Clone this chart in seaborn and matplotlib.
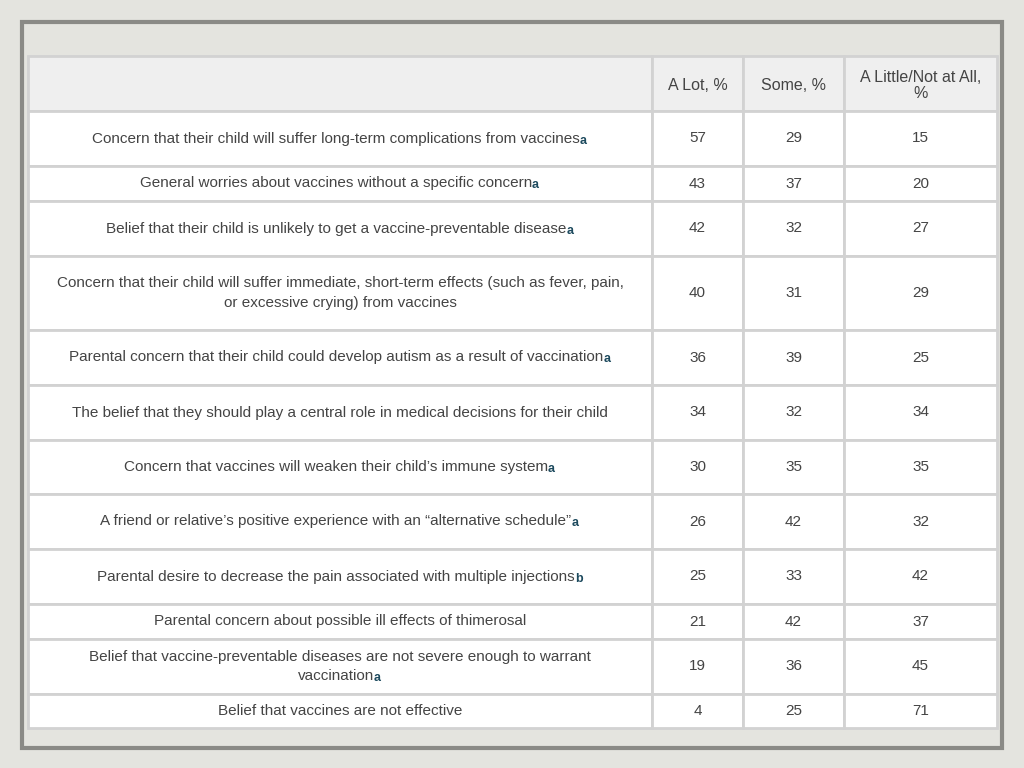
import matplotlib
matplotlib.use('Agg')
import matplotlib.pyplot as plt
import seaborn as sns
from matplotlib.patches import Rectangle

sns.set_theme(style="white")
plt.rcParams['font.family'] = ['Liberation Sans', 'DejaVu Sans']

# Datos de la tabla
etiquetas = [
    ["Concern that their child will suffer long-term complications from vaccines"],
    ["General worries about vaccines without a specific concern"],
    ["Belief that their child is unlikely to get a vaccine-preventable disease"],
    ["Concern that their child will suffer immediate, short-term effects (such as fever, pain,",
     "or excessive crying) from vaccines"],
    ["Parental concern that their child could develop autism as a result of vaccination"],
    ["The belief that they should play a central role in medical decisions for their child"],
    ["Concern that vaccines will weaken their child\u2019s immune system"],
    ["A friend or relative\u2019s positive experience with an \u201calternative schedule\u201d"],
    ["Parental desire to decrease the pain associated with multiple injections"],
    ["Parental concern about possible ill effects of thimerosal"],
    ["Belief that vaccine-preventable diseases are not severe enough to warrant",
     "vaccination"],
    ["Belief that vaccines are not effective"],
]
notas = ["a", "a", "a", "", "a", "", "a", "a", "b", "", "a", ""]
a_lot = [57, 43, 42, 40, 36, 34, 30, 26, 25, 21, 19, 4]
some = [29, 37, 32, 31, 39, 32, 35, 42, 33, 42, 36, 25]
little = [15, 20, 27, 29, 25, 34, 35, 32, 42, 37, 45, 71]
encabezados = ["A Lot, %", "Some, %", "A Little/Not at All,\n%"]

# Geometría (píxeles)
cols = [28, 652, 743, 844, 997]
filas = [56, 111, 166, 201, 256, 330, 385, 440, 494, 549, 604, 639, 694, 728]

fig = plt.figure(figsize=(10.24, 7.68), dpi=100)
fig.patch.set_facecolor('#e4e4df')
ax = fig.add_axes([0, 0, 1, 1])
ax.set_xlim(0, 1024)
ax.set_ylim(768, 0)
ax.axis('off')

ax.add_patch(Rectangle((22, 22), 980, 726, fill=False, edgecolor='#8a8a86', linewidth=3))

gris = '#d2d2d2'
texto = '#444444'
# Celdas
for i in range(len(filas) - 1):
    for j in range(len(cols) - 1):
        fc = '#efefef' if i == 0 else 'white'
        ax.add_patch(Rectangle((cols[j], filas[i]), cols[j + 1] - cols[j], filas[i + 1] - filas[i],
                               facecolor=fc, edgecolor=gris, linewidth=2))

# Encabezados
for j, h in enumerate(encabezados):
    xc = (cols[j + 1] + cols[j + 2]) / 2
    yc = (filas[0] + filas[1]) / 2 + 2
    ax.text(xc, yc, h, ha='center', va='center', fontsize=11.5, color=texto, linespacing=1.15)

fig.canvas.draw()
r = fig.canvas.get_renderer()
inv = ax.transData.inverted()

for i, lineas in enumerate(etiquetas):
    y0, y1 = filas[i + 1], filas[i + 2]
    yc = (y0 + y1) / 2
    xc = (cols[0] + cols[1]) / 2
    n = len(lineas)
    for k, linea in enumerate(lineas):
        y = yc + (k - (n - 1) / 2) * 19
        nota = notas[i] if k == n - 1 else ""
        t = ax.text(xc, y, linea, ha='center', va='center', fontsize=11, color=texto)
        if nota:
            bb = t.get_window_extent(r)
            w = inv.transform((bb.x1, 0))[0] - inv.transform((bb.x0, 0))[0]
            wn = 8
            t.set_position((xc - wn / 2, y))
            ax.text(xc - wn / 2 + w / 2, y + 2, nota, ha='left', va='center', fontsize=9,
                    fontweight='bold', color='#1d4a5e')
    for j, v in enumerate([a_lot[i], some[i], little[i]]):
        ax.text((cols[j + 1] + cols[j + 2]) / 2, yc, str(v), ha='center', va='center',
                fontsize=11, color=texto)

fig.savefig('out.png', dpi=100)
